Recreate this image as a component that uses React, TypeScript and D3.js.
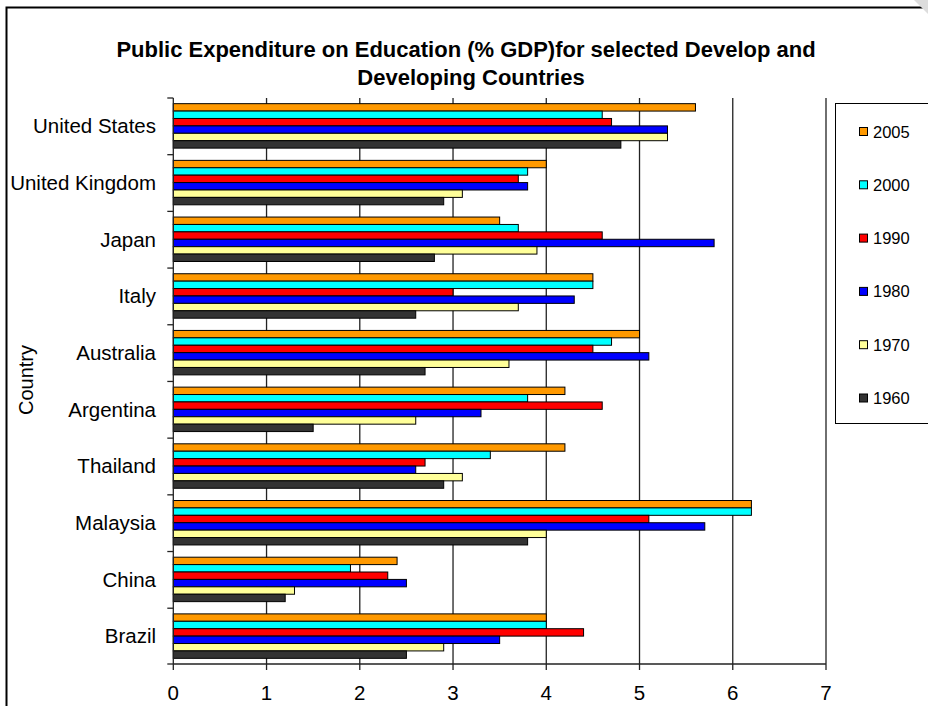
import React from "react";
import * as d3 from "d3";

const countries = ["United States", "United Kingdom", "Japan", "Italy", "Australia", "Argentina", "Thailand", "Malaysia", "China", "Brazil"];
const years = ["2005", "2000", "1990", "1980", "1970", "1960"];
const colors = ["#FF9900", "#00FFFF", "#FF0000", "#0000FF", "#FFFF99", "#333333"];

const v2005 = [5.6, 4.0, 3.5, 4.5, 5.0, 4.2, 4.2, 6.2, 2.4, 4.0];
const v2000 = [4.6, 3.8, 3.7, 4.5, 4.7, 3.8, 3.4, 6.2, 1.9, 4.0];
const v1990 = [4.7, 3.7, 4.6, 3.0, 4.5, 4.6, 2.7, 5.1, 2.3, 4.4];
const v1980 = [5.3, 3.8, 5.8, 4.3, 5.1, 3.3, 2.6, 5.7, 2.5, 3.5];
const v1970 = [5.3, 3.1, 3.9, 3.7, 3.6, 2.6, 3.1, 4.0, 1.3, 2.9];
const v1960 = [4.8, 2.9, 2.8, 2.6, 2.7, 1.5, 2.9, 3.8, 1.2, 2.5];
const series = [v2005, v2000, v1990, v1980, v1970, v1960];

const xTicks = [0, 1, 2, 3, 4, 5, 6, 7];

const titleLines = ["Public Expenditure on Education (% GDP)for selected Develop and", "Developing Countries"];

export default function App() {
  const W = 928, H = 706;
  const left = 173.3, right = 826, top = 98, bottom = 664;
  const x = d3.scaleLinear().domain([0, 7]).range([left, right]);
  const y = d3.scaleBand<string>().domain(countries).range([top, bottom]).paddingInner(0.216).paddingOuter(0.1);
  const inner = d3.scaleBand<string>().domain(years).range([0, y.bandwidth()]);
  const font = "'Liberation Sans', Arial, sans-serif";
  const step = y.step();

  return (
    <svg width={W} height={H} style={{ position: "absolute", left: 0, top: 0, background: "#fff" }} fontFamily={font}>
      <rect x={0} y={0} width={W} height={H} fill="#fff" />
      {/* outer border */}
      <path d={`M6.5,${H + 5} L6.5,7.5 L${W + 5},7.5`} fill="none" stroke="#000" strokeWidth={2} />
      <path d={`M${W - 14},0 L${W},0 L${W},14 Z`} fill="#ddd" />

      {/* title */}
      {titleLines.map((t, i) => (
        <text key={i} x={466 + (i === 1 ? 5 : 0)} y={57 + i * 28} textAnchor="middle" fontWeight="bold" fontSize={22} fill="#000">
          {t}
        </text>
      ))}

      {/* gridlines */}
      {xTicks.slice(1).map((t) => (
        <line key={t} x1={x(t)} x2={x(t)} y1={top} y2={bottom} stroke="#222" strokeWidth={1.3} />
      ))}

      {/* bars */}
      {countries.map((c, ci) => (
        <g key={c}>
          {years.map((yr, si) => (
            <rect
              key={yr}
              x={x(0)}
              y={(y(c) as number) + (inner(yr) as number)}
              width={x(series[si][ci]) - x(0)}
              height={inner.bandwidth()}
              fill={colors[si]}
              stroke="#000"
              strokeWidth={1}
            />
          ))}
        </g>
      ))}

      {/* axes */}
      <line x1={left} x2={left} y1={top} y2={bottom} stroke="#222" strokeWidth={1.3} />
      <line x1={left} x2={right} y1={bottom} y2={bottom} stroke="#222" strokeWidth={1.3} />
      {countries.map((c, ci) => (
        <line key={c} x1={left - 6} x2={left} y1={top + ci * step} y2={top + ci * step} stroke="#222" strokeWidth={1.3} />
      ))}
      <line x1={left - 6} x2={left} y1={bottom} y2={bottom} stroke="#222" strokeWidth={1.3} />
      {xTicks.map((t) => (
        <g key={t}>
          <line x1={x(t)} x2={x(t)} y1={bottom} y2={bottom + 6} stroke="#222" strokeWidth={1.3} />
          <text x={x(t)} y={700} textAnchor="middle" fontSize={20.5} fill="#000">
            {t}
          </text>
        </g>
      ))}
      {countries.map((c) => (
        <text key={c} x={156} y={(y(c) as number) + y.bandwidth() / 2 + 7.3} textAnchor="end" fontSize={20.5} fill="#000">
          {c}
        </text>
      ))}
      <text transform={`translate(33,380) rotate(-90)`} textAnchor="middle" fontSize={20} fill="#000">
        Country
      </text>

      {/* legend */}
      <rect x={835.5} y={103.5} width={110} height={320} fill="#fff" stroke="#000" strokeWidth={1} />
      {years.map((yr, i) => (
        <g key={yr}>
          <rect x={859.5} y={127.5 + i * 53.3} width={8} height={8} fill={colors[i]} stroke="#000" strokeWidth={1} />
          <text x={873} y={137.5 + i * 53.3} fontSize={16.5} fill="#000">
            {yr}
          </text>
        </g>
      ))}
    </svg>
  );
}
